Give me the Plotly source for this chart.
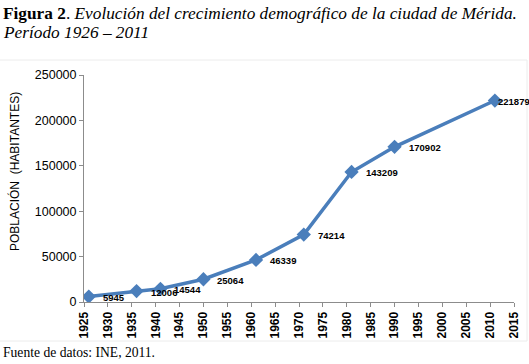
import plotly.graph_objects as go

years = [1926, 1936, 1941, 1950, 1961, 1971, 1981, 1990, 2011]
population = [5945, 12006, 14544, 25064, 46339, 74214, 143209, 170902, 221879]
labels = [str(v) for v in population]

W, H = 529, 364
ml, mr, mt, mb = 84, 15, 75, 62
pw, ph = W - ml - mr, H - mt - mb

def px(x):
    return (x - ml) / pw

def py(y):
    return (H - mb - y) / ph

fig = go.Figure()
fig.add_trace(go.Scatter(
    x=years, y=population, mode="lines+markers",
    line=dict(color="#4a7ebb", width=3.5),
    marker=dict(symbol="diamond", size=11, color="#4a7ebb"),
    hoverinfo="skip", showlegend=False,
))

annotations = []
for i, (x, y, t) in enumerate(zip(years, population, labels)):
    last = i == len(years) - 1
    annotations.append(dict(
        x=x, y=y, xref="x", yref="y", text="<b>%s</b>" % t, showarrow=False,
        xanchor="left", yanchor="middle",
        xshift=1 if last else 12, yshift=-1,
        font=dict(family="Liberation Sans Narrow, Arial Narrow, Liberation Sans", size=9.5, color="#000"),
    ))

serif = "Liberation Serif, Times New Roman, serif"
annotations.append(dict(
    xref="paper", yref="paper", x=px(1), y=py(14), xanchor="left", yanchor="middle",
    align="left", showarrow=False,
    text="<b>Figura 2</b>. <i>Evolución del crecimiento demográfico de la ciudad de Mérida.</i>",
    font=dict(family=serif, size=17.3, color="#000"),
))
annotations.append(dict(
    xref="paper", yref="paper", x=px(1), y=py(33), xanchor="left", yanchor="middle",
    align="left", showarrow=False,
    text="<i>Período 1926 – 2011</i>",
    font=dict(family=serif, size=17.3, color="#000"),
))
annotations.append(dict(
    xref="paper", yref="paper", x=px(1), y=py(352), xanchor="left", yanchor="middle",
    align="left", showarrow=False,
    text="Fuente de datos: INE, 2011.",
    font=dict(family=serif, size=13.6, color="#000"),
))
annotations.append(dict(
    xref="paper", yref="paper", x=px(14), y=py(172), xanchor="center", yanchor="middle",
    textangle=-90, showarrow=False,
    text="POBLACIÓN  (HABITANTES)",
    font=dict(family="Liberation Sans, Arial", size=12, color="#000"),
))

fig.update_layout(
    width=W, height=H,
    margin=dict(l=ml, r=mr, t=mt, b=mb, pad=0),
    paper_bgcolor="white", plot_bgcolor="white",
    annotations=annotations,
    shapes=[dict(type="rect", xref="paper", yref="paper",
                 x0=px(-2), x1=px(527), y0=py(341), y1=py(60),
                 line=dict(color="#ececec", width=1), layer="below")],
    xaxis=dict(
        range=[1925, 2015], dtick=5, tick0=1925, tickangle=-90, automargin=False,
        showgrid=False, zeroline=False, showline=True, linecolor="#8c8c8c", linewidth=1,
        ticks="outside", ticklen=4, tickcolor="#8c8c8c",
        tickfont=dict(family="Liberation Sans, Arial", size=12, color="#000", weight="bold"),
    ),
    yaxis=dict(
        range=[0, 250000], dtick=50000, tickformat="d", automargin=False,
        showgrid=False, zeroline=False, showline=True, linecolor="#8c8c8c", linewidth=1,
        ticks="outside", ticklen=4, tickcolor="#8c8c8c",
        tickfont=dict(family="Liberation Sans, Arial", size=12.5, color="#000"),
    ),
)

fig.write_html(
    "out.html",
    config={"displayModeBar": False, "staticPlot": True},
    post_script="document.body.style.margin='0';document.body.style.overflow='hidden';",
)
